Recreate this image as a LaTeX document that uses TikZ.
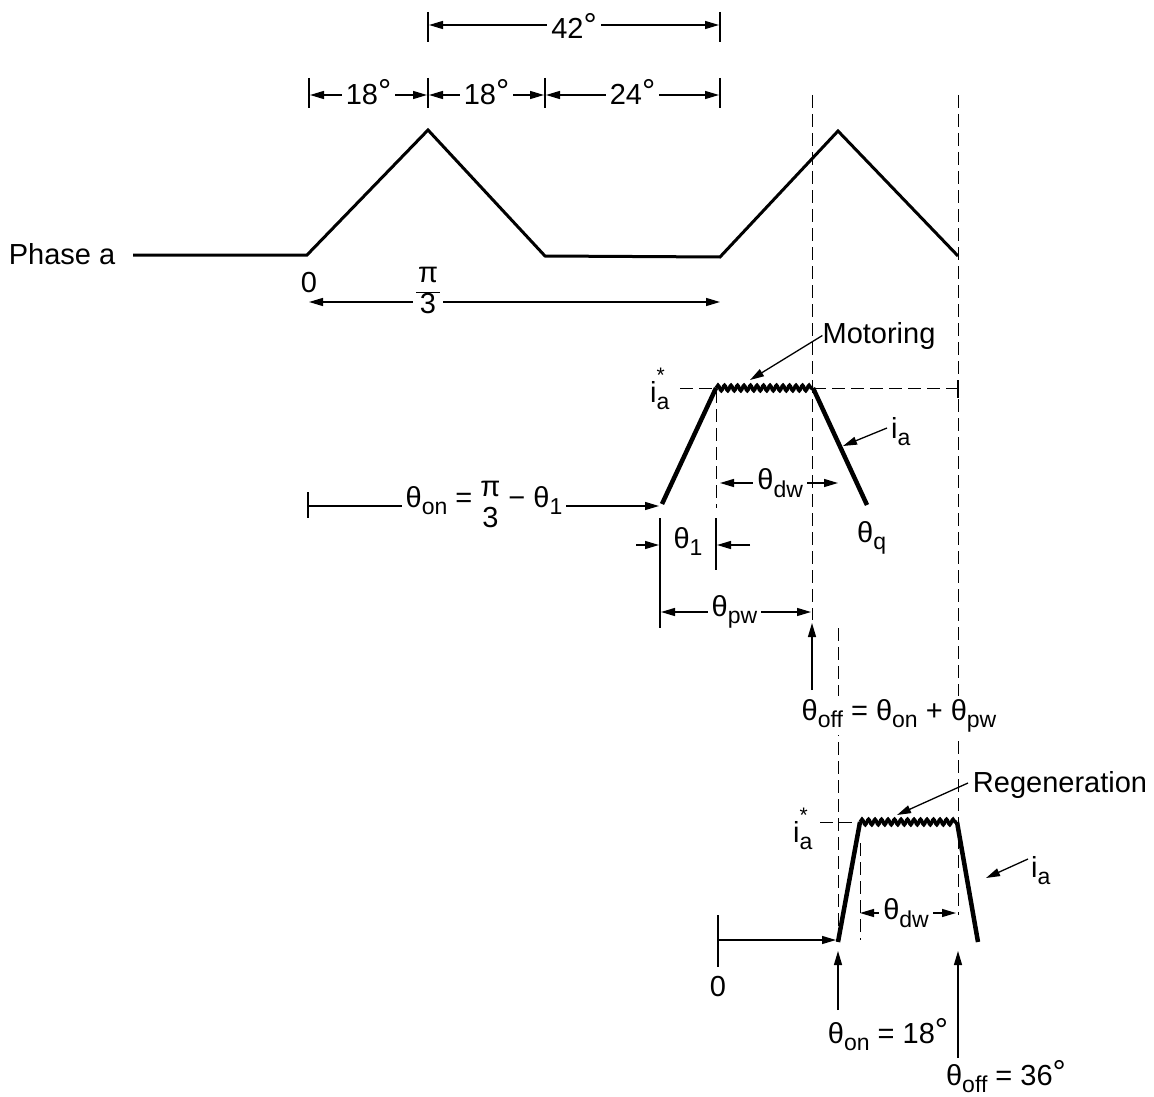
\documentclass[tikz,border=0pt]{standalone}
\usepackage{fontspec}
\setmainfont{Liberation Sans}
\usetikzlibrary{arrows.meta,decorations.pathmorphing}
\newcommand\sbs[1]{\raisebox{-0.5ex}{\fontsize{23}{23}\selectfont #1}}
\newcommand\dg{\raisebox{0.1ex}{\fontsize{33}{33}\selectfont °}}
\newcommand\iastar{i\rlap{\raisebox{1.3ex}{\fontsize{21}{21}\selectfont *}}\sbs{a}}
\newcommand\fracbar[2]{{\renewcommand\arraystretch{0.85}\begin{tabular}{@{\hspace{2pt}}c@{\hspace{2pt}}}#1\\\hline #2\end{tabular}}}
\newcommand\fracnb[2]{\raisebox{-5pt}{\ensuremath{\vcenter{\hbox{\renewcommand\arraystretch{0.9}\begin{tabular}{@{}c@{}}#1\\#2\end{tabular}}}}}}
\begin{document}
\begin{tikzpicture}[x=1pt,y=-1pt,
  every node/.style={font=\fontsize{29}{35}\selectfont, inner sep=0pt},
  wave/.style={line width=3pt, line join=miter},
  pulse/.style={line width=4.5pt, line join=miter},
  ripple/.style={line width=3.4pt, decorate, decoration={snake, segment length=6.5pt, amplitude=2.8pt}},
  dimline/.style={line width=1.3pt},
  tick/.style={line width=1.3pt},
  arr/.style={dimline, -{Triangle[length=14pt,width=8pt]}},
  darr/.style={dimline, {Triangle[length=14pt,width=8pt]}-{Triangle[length=14pt,width=8pt]}},
  guide/.style={line width=1pt, dash pattern=on 13pt off 6pt},
  lbl/.style={fill=white, inner sep=4pt},
]
\useasboundingbox (0,0) rectangle (1154,1097);

% ---------- guides (dashed) ----------
\coordinate (g1t) at (812,95);  \coordinate (g1b) at (812,620);
\coordinate (g2t) at (958,95);  \coordinate (g2b) at (958,915);
\coordinate (g3t) at (716,390); \coordinate (g3b) at (716,508);
\coordinate (g4t) at (838,628); \coordinate (g4b) at (838,937);
\coordinate (g5t) at (860,843); \coordinate (g5b) at (860,940);
\coordinate (h1l) at (680,388); \coordinate (h1r) at (958,388);
\coordinate (h2l) at (820,822); \coordinate (h2r) at (860,822);
\draw[guide] (g1t) -- (g1b);
\draw[guide] (g2t) -- (g2b);
\draw[guide] (g3t) -- (g3b);
\draw[guide] (g4t) -- (g4b);
\draw[guide] (g5t) -- (g5b);
\draw[guide] (h1l) -- (h1r);
\draw[guide] (h2l) -- (h2r);
\coordinate (h1t1) at (958,380); \coordinate (h1t2) at (958,398);
\draw[line width=2pt] (h1t1) -- (h1t2);

% ---------- phase a waveform ----------
\node (lPhase) at (62,254) {Phase a};
\coordinate (A0) at (133,255);
\coordinate (P0) at (307,255);
\coordinate (P1) at (428,130);
\coordinate (P2) at (545,256);
\coordinate (P3) at (720,257);
\coordinate (P4) at (838,131);
\coordinate (P5) at (958,256);
\draw[wave] (A0) -- (P0) -- (P1) -- (P2) -- (P3) -- (P4) -- (P5);

% ---------- top dimensions ----------
\coordinate (ta1) at (428,12); \coordinate (ta2) at (428,42);
\coordinate (tb1) at (720,12); \coordinate (tb2) at (720,42);
\draw[tick] (ta1) -- (ta2);
\draw[tick] (tb1) -- (tb2);
\coordinate (d42l) at (429,25); \coordinate (d42r) at (719,25);
\draw[darr] (d42l) -- node[lbl,yshift=-1pt] (l42) {42\dg} (d42r);

\coordinate (r1a) at (309,78); \coordinate (r1b) at (309,108);
\coordinate (r2a) at (428,78); \coordinate (r2b) at (428,108);
\coordinate (r3a) at (545,78); \coordinate (r3b) at (545,108);
\coordinate (r4a) at (720,78); \coordinate (r4b) at (720,108);
\draw[tick] (r1a) -- (r1b);
\draw[tick] (r2a) -- (r2b);
\draw[tick] (r3a) -- (r3b);
\draw[tick] (r4a) -- (r4b);
\coordinate (s1) at (310,95); \coordinate (s2l) at (429,95); \coordinate (s2r) at (427,95);
\coordinate (s3l) at (546,95); \coordinate (s3r) at (544,95); \coordinate (s4) at (719,95);
\draw[darr] (s1) -- node[lbl,yshift=3pt] (l18a) {18\dg} (s2r);
\draw[darr] (s2l) -- node[lbl,yshift=3pt] (l18b) {18\dg} (s3r);
\draw[darr] (s3l) -- node[lbl,yshift=3pt] (l24) {24\dg} (s4);

% ---------- 0 and pi/3 ----------
\node (lzero1) at (309,283) {0};
\coordinate (pl) at (309,302); \coordinate (pr) at (720,302);
\draw[darr] (pl) -- (pr);
\node[fill=white, inner sep=3pt] (lpi) at (428,292) {\fracbar{π}{3}};

% ---------- motoring pulse ----------
\coordinate (m1) at (662,504);
\coordinate (m2) at (716,388);
\coordinate (m3) at (813,388);
\coordinate (m4) at (867,505);
\draw[pulse] (m1) -- (m2);
\draw[ripple] (m2) -- (m3);
\draw[pulse] (m3) -- (m4);
\node[anchor=base west] (iam) at (650,402) {\iastar};
\node[anchor=base] (lmot) at (879,343) {Motoring};
\coordinate (motTip) at (750,380);
\draw[arr] (lmot.west) -- (motTip);
\node[anchor=base west] (iam2) at (891,438) {i\sbs{a}};
\coordinate (iamS) at (887,428); \coordinate (iamT) at (843,446);
\draw[arr] (iamS) -- (iamT);
\node[anchor=base west] (thq) at (857,542) {θ\sbs{q}};

% theta_dw (motoring)
\coordinate (dw1l) at (720,483); \coordinate (dw1r) at (838,483);
\draw[darr] (dw1l) -- node[lbl,pos=0.51] (ldw1) {θ\sbs{dw}} (dw1r);

% theta_on formula
\coordinate (on1) at (308,492); \coordinate (on2) at (308,518);
\draw[tick] (on1) -- (on2);
\coordinate (onL) at (308,506); \coordinate (onR) at (659,506);
\draw[arr] (onL) -- (onR);
\node[lbl, anchor=base] (lon) at (484,507) {θ\sbs{on} = \fracnb{π}{3} − θ\sbs{1}};

% theta_1
\coordinate (k1a) at (660,518); \coordinate (k1b) at (660,628);
\coordinate (k2a) at (716,518); \coordinate (k2b) at (716,570);
\draw[tick] (k1a) -- (k1b);
\draw[tick] (k2a) -- (k2b);
\node[anchor=base] (lth1) at (688,548) {θ\sbs{1}};
\coordinate (t1a) at (636,545); \coordinate (t1b) at (659,545);
\coordinate (t1c) at (750,545); \coordinate (t1d) at (717,545);
\draw[arr] (t1a) -- (t1b);
\draw[arr] (t1c) -- (t1d);

% theta_pw
\coordinate (pwL) at (661,612); \coordinate (pwR) at (811,612);
\draw[darr] (pwL) -- node[lbl,pos=0.49] (lpw) {θ\sbs{pw}} (pwR);

% theta_off
\coordinate (offS) at (812,690); \coordinate (offT) at (812,623);
\draw[arr] (offS) -- (offT);
\node[anchor=base, fill=white, inner sep=3pt] (loff) at (899,720) {θ\sbs{off} = θ\sbs{on} + θ\sbs{pw}};

% ---------- regeneration pulse ----------
\coordinate (n1) at (838,942);
\coordinate (n2) at (860,822);
\coordinate (n3) at (957,822);
\coordinate (n4) at (978,942);
\draw[pulse] (n1) -- (n2);
\draw[ripple] (n2) -- (n3);
\draw[pulse] (n3) -- (n4);
\node[anchor=base west] (iar) at (793,842) {\iastar};
\node[anchor=base] (lreg) at (1060,792) {Regeneration};
\coordinate (regS) at (968,783); \coordinate (regT) at (897,815);
\draw[arr] (regS) -- (regT);
\node[anchor=base west] (iar2) at (1031,877) {i\sbs{a}};
\coordinate (iarS) at (1028,859); \coordinate (iarT) at (986,878);
\draw[arr] (iarS) -- (iarT);

% theta_dw (regeneration)
\coordinate (dw2l) at (860,913); \coordinate (dw2r) at (956,913);
\draw[darr] (dw2l) -- node[lbl,pos=0.48] (ldw2) {θ\sbs{dw}} (dw2r);

% zero reference and on/off arrows
\coordinate (z1) at (718,915); \coordinate (z2) at (718,967);
\draw[tick] (z1) -- (z2);
\coordinate (zL) at (718,940); \coordinate (zR) at (836,940);
\draw[arr] (zL) -- (zR);
\node (lzero2) at (718,987) {0};
\coordinate (onS) at (838,1010); \coordinate (onT) at (838,951);
\draw[arr] (onS) -- (onT);
\node[anchor=base] (lon18) at (888,1043) {θ\sbs{on} = 18\dg};
\coordinate (ofS) at (958,1058); \coordinate (ofT) at (958,951);
\draw[arr] (ofS) -- (ofT);
\node[anchor=base] (loff36) at (1006,1085) {θ\sbs{off} = 36\dg};
\end{tikzpicture}
\end{document}
